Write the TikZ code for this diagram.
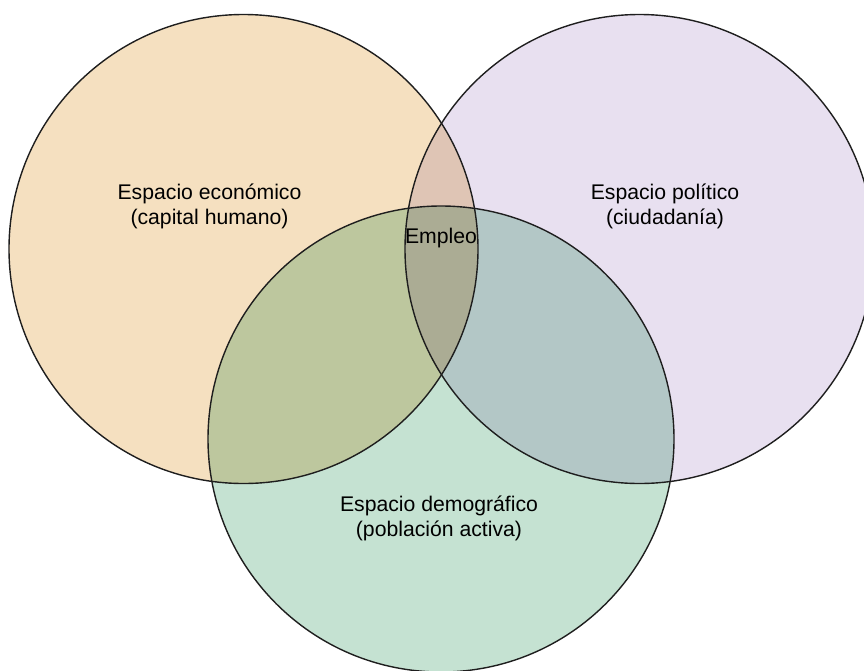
\documentclass[tikz,border=0pt]{standalone}
\usepackage{fontspec}
\setmainfont{Liberation Sans}
\definecolor{cL}{RGB}{245,224,192}
\definecolor{cR}{RGB}{232,224,240}
\definecolor{cG}{RGB}{197,226,210}
\definecolor{cLR}{RGB}{223,197,181}
\definecolor{cLG}{RGB}{189,199,158}
\definecolor{cRG}{RGB}{179,199,198}
\definecolor{cLRG}{RGB}{171,172,148}
\definecolor{edge}{RGB}{30,30,30}
\tikzset{
  ring/.style={draw=edge, line width=1.4pt},
  lbl/.style={align=center, inner sep=0pt, font=\fontsize{21.2}{25}\selectfont, text=black}
}
\begin{document}
\begin{tikzpicture}[x=1pt, y=-1pt]
\useasboundingbox (0,0) rectangle (864,670);
\clip (0,0) rectangle (864,670);
\coordinate (L) at (243.5,249);
\coordinate (R) at (639.5,249);
\coordinate (G) at (441,439);
\def\rL{234.5}\def\rR{234.5}\def\rG{233}
\fill[cL] (L) circle[radius=\rL];
\fill[cR] (R) circle[radius=\rR];
\fill[cG] (G) circle[radius=\rG];
\begin{scope}\clip (L) circle[radius=\rL]; \fill[cLR] (R) circle[radius=\rR]; \end{scope}
\begin{scope}\clip (L) circle[radius=\rL]; \fill[cLG] (G) circle[radius=\rG]; \end{scope}
\begin{scope}\clip (R) circle[radius=\rR]; \fill[cRG] (G) circle[radius=\rG]; \end{scope}
\begin{scope}\clip (L) circle[radius=\rL]; \clip (R) circle[radius=\rR]; \fill[cLRG] (G) circle[radius=\rG]; \end{scope}
\draw[ring] (L) circle[radius=\rL];
\draw[ring] (R) circle[radius=\rR];
\draw[ring] (G) circle[radius=\rG];
\node[lbl] (eco) at (209.5,206) {Espacio económico\\(capital humano)};
\node[lbl] (pol) at (665,206) {Espacio político\\(ciudadanía)};
\node[lbl] (dem) at (439,518) {Espacio demográfico\\(población activa)};
\node[lbl, anchor=base] (emp) at (441,243) {Empleo};
\end{tikzpicture}
\end{document}
